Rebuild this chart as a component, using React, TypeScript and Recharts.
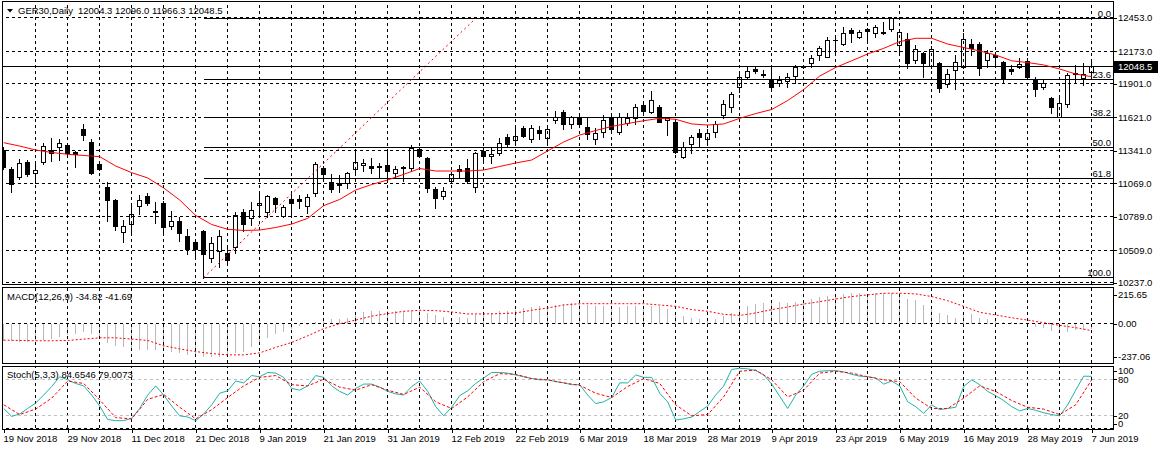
import React from 'react';
import { ComposedChart, Bar, Line, XAxis, YAxis, ReferenceLine } from 'recharts';

const FONT = '"Liberation Sans", Arial, sans-serif';
const FS = 9.5;

// ---------- data ----------
const opens = [
  11348, 11186, 11124, 11245, 11153, 11245, 11348, 11376, 11390, 11329,
  11521, 11417, 11231, 11036, 10929, 10659, 10726, 10879, 10963, 10837,
  10907, 10714, 10754, 10628, 10575, 10670, 10441, 10502, 10483, 10538,
  10831, 10776, 10887, 10826, 10944, 10795, 10935, 10938, 10879, 10985,
  11195, 11082, 11069, 11074, 11186, 11222, 11214, 11206, 11222, 11158,
  11203, 11195, 11356, 11278, 11021, 10963, 11088, 11186, 11195, 11041,
  11342, 11298, 11320, 11454, 11432, 11530, 11437, 11515, 11446, 11599,
  11669, 11566, 11613, 11543, 11437, 11501, 11622, 11496, 11577, 11618,
  11725, 11669, 11710, 11603, 11585, 11292, 11396, 11488, 11437, 11501,
  11643, 11705, 11873, 11962, 12026, 11973, 11940, 11906, 11926, 11967,
  12043, 12074, 12143, 12129, 12266, 12233, 12352, 12296, 12358, 12325,
  12327, 12358, 12227, 12275, 12101, 12157, 12051, 12079, 11898, 12018,
  12045, 12235, 12235, 12101, 12143, 12087, 12029, 12040, 12095, 11940,
  11873, 11781, 11627, 11733, 11982, 11948, 12004.3,
];
const highs = [
  11373, 11206, 11270, 11264, 11237, 11404, 11446, 11437, 11404, 11340,
  11566, 11437, 11247, 11082, 10935, 10762, 10887, 10971, 10990, 10915,
  10923, 10837, 10784, 10684, 10594, 10678, 10617, 10678, 10525, 10831,
  10854, 10915, 10980, 10971, 10957, 10887, 10999, 10971, 10980, 11250,
  11214, 11147, 11139, 11166, 11329, 11270, 11278, 11237, 11329, 11214,
  11214, 11390, 11376, 11292, 11041, 11041, 11166, 11222, 11270, 11334,
  11362, 11376, 11446, 11482, 11530, 11549, 11557, 11549, 11549, 11674,
  11683, 11633, 11655, 11622, 11530, 11641, 11641, 11655, 11655, 11733,
  11739, 11844, 11725, 11622, 11599, 11417, 11473, 11521, 11521, 11593,
  11767, 11836, 11984, 12045, 12051, 12018, 12032, 11967, 11995, 12060,
  12060, 12143, 12221, 12291, 12291, 12375, 12367, 12352, 12367, 12394,
  12422, 12464, 12353, 12325, 12227, 12171, 12219, 12087, 12026, 12143,
  12330, 12275, 12255, 12185, 12171, 12095, 12060, 12116, 12116, 11957,
  11934, 11794, 11789, 11990, 12060, 12079, 12096,
];
const lows = [
  11189, 10999, 11105, 11130, 11069, 11231, 11258, 11264, 11306, 11203,
  11432, 11147, 11180, 10756, 10678, 10580, 10656, 10812, 10887, 10734,
  10650, 10686, 10586, 10477, 10441, 10280, 10410, 10371, 10399, 10483,
  10672, 10720, 10795, 10790, 10831, 10784, 10804, 10862, 10818, 10963,
  11105, 10999, 10999, 11027, 11166, 11175, 11158, 11124, 11082, 11111,
  11091, 11175, 11292, 10999, 10860, 10935, 11069, 11116, 11069, 10999,
  11250, 11237, 11306, 11381, 11417, 11454, 11417, 11437, 11398, 11577,
  11521, 11530, 11549, 11437, 11398, 11454, 11501, 11482, 11557, 11566,
  11655, 11655, 11582, 11473, 11320, 11278, 11320, 11376, 11398, 11454,
  11613, 11669, 11836, 11940, 11990, 11957, 11865, 11884, 11873, 11911,
  12032, 12045, 12101, 12124, 12171, 12227, 12255, 12283, 12263, 12296,
  12317, 12347, 12160, 12032, 12074, 11957, 12034, 11836, 11873, 11856,
  12032, 12143, 11976, 12045, 12045, 11911, 11984, 12032, 11957, 11802,
  11856, 11655, 11622, 11705, 11920, 11892, 11966.3,
];
const closes = [
  11208, 11061, 11237, 11144, 11180, 11381, 11325, 11404, 11325, 11312,
  11473, 11153, 11191, 10929, 10714, 10714, 10810, 10929, 10907, 10826,
  10706, 10754, 10650, 10519, 10519, 10475, 10572, 10630, 10427, 10801,
  10728, 10846, 10902, 10965, 10896, 10868, 10907, 10923, 10957, 11228,
  11144, 11021, 11055, 11153, 11250, 11237, 11200, 11210, 11175, 11186,
  11195, 11362, 11300, 11027, 10949, 11007, 11144, 11172, 11088, 11320,
  11300, 11314, 11409, 11398, 11465, 11465, 11530, 11488, 11521, 11627,
  11566, 11622, 11566, 11479, 11493, 11599, 11521, 11622, 11613, 11705,
  11677, 11767, 11585, 11612, 11334, 11376, 11454, 11459, 11488, 11563,
  11730, 11814, 11962, 12009, 12012, 11980, 11873, 11934, 11957, 12040,
  12049, 12116, 12199, 12269, 12271, 12325, 12325, 12338, 12347, 12375,
  12333, 12451, 12333, 12074, 12191, 12074, 12191, 11865, 11984, 12087,
  12275, 12199, 12032, 12157, 12129, 11940, 12012, 12068, 11962, 11856,
  11911, 11705, 11739, 11976, 11990, 11984, 12048.5,
];
// moving average, read at every second bar (bars 0, 2, 4, ... 136)
const maEven = [
  11409, 11381, 11348, 11327, 11312, 11302, 11292, 11214, 11158, 11114,
  11030, 10929, 10800, 10724, 10684, 10674, 10678, 10699, 10728, 10776,
  10882, 10934, 11013, 11059, 11097, 11144, 11193, 11172, 11172, 11172,
  11180, 11210, 11239, 11264, 11340, 11415, 11473, 11511, 11545, 11570,
  11593, 11613, 11605, 11566, 11557, 11566, 11613, 11653, 11687, 11762,
  11854, 11967, 12039, 12095, 12152, 12199, 12255, 12283, 12283, 12235,
  12206, 12177, 12143, 12095, 12080, 12060, 12026, 11984, 11962,
];
const macdHist = [
  -103, -107, -109, -113, -103, -99, -93, -83, -69, -63,
  -50, -63, -93, -117, -133, -143, -152, -156, -156, -156,
  -162, -168, -176, -188, -196, -202, -202, -198, -192, -178,
  -168, -143, -113, -89, -63, -50, -30, -14, -10, 10,
  16, 26, 30, 36, 59, 71, 75, 75, 75, 75,
  75, 79, 75, 65, 50, 40, 36, 40, 36, 50,
  65, 65, 75, 75, 85, 95, 99, 109, 109, 115,
  121, 125, 121, 115, 109, 109, 105, 101, 105, 109,
  109, 109, 105, 89, 65, 46, 36, 26, 16, 26,
  46, 65, 89, 105, 121, 125, 129, 129, 125, 131,
  141, 149, 160, 168, 174, 180, 184, 184, 180, 184,
  184, 188, 184, 149, 141, 115, 109, 65, 50, 36,
  65, 59, 36, 30, 16, 12, 10, 6, -4, -18,
  -24, -44, -57, -50, -40, -38, -34.82,
];
// MACD signal, read at every second bar
const macdSignalEven = [
  -99, -101, -103, -103, -101, -93, -85, -85, -93, -101,
  -133, -152, -168, -180, -188, -188, -176, -143, -113, -73,
  -30, 0, 22, 46, 61, 75, 81, 79, 71, 59,
  59, 61, 65, 81, 95, 113, 121, 121, 121, 121,
  121, 113, 105, 85, 75, 57, 50, 65, 85, 101,
  119, 133, 149, 164, 174, 184, 184, 180, 164, 139,
  105, 69, 53, 36, 22, 6, -10, -24, -41.69,
];
const stochMain = [
  32, 19, 23, 32, 41, 54, 68, 84, 79, 73,
  69, 54, 36, 14, 12, 12, 16, 32, 54, 69,
  54, 36, 20, 18, 12, 23, 38, 57, 61, 77,
  74, 86, 84, 91, 90, 83, 65, 62, 69, 86,
  83, 69, 60, 54, 65, 72, 72, 67, 60, 56,
  54, 68, 77, 60, 35, 20, 34, 53, 61, 73,
  82, 91, 91, 90, 87, 84, 81, 79, 79, 76,
  74, 71, 71, 54, 40, 43, 50, 74, 74, 87,
  83, 83, 57, 43, 13, 15, 18, 27, 36, 54,
  69, 96, 98, 97, 94, 87, 72, 52, 32, 54,
  69, 88, 93, 94, 94, 92, 88, 85, 84, 82,
  72, 77, 69, 43, 35, 24, 38, 30, 32, 34,
  68, 79, 71, 60, 53, 45, 35, 28, 32, 29,
  25, 22, 20, 38, 62, 85, 84.6546,
];
// stochastic signal, read at every second bar
const stochSignalEven = [
  38, 22, 31, 49, 77, 73, 46, 17, 15, 47,
  55, 34, 15, 30, 50, 69, 83, 86, 71, 69,
  80, 67, 62, 71, 62, 55, 67, 43, 32, 51,
  76, 89, 88, 81, 79, 74, 70, 57, 50, 68,
  81, 73, 38, 20, 22, 51, 93, 95, 79, 51,
  62, 90, 93, 90, 84, 79, 76, 49, 32, 32,
  49, 69, 60, 45, 34, 31, 22, 38, 79.0073,
];
const dateLabels = [
  '19 Nov 2018', '29 Nov 2018', '11 Dec 2018', '21 Dec 2018', '9 Jan 2019', '21 Jan 2019',
  '31 Jan 2019', '12 Feb 2019', '22 Feb 2019', '6 Mar 2019', '18 Mar 2019', '28 Mar 2019',
  '9 Apr 2019', '23 Apr 2019', '6 May 2019', '16 May 2019', '28 May 2019', '7 Jun 2019',
];
const priceTicks = [10237, 10509, 10789, 11069, 11341, 11621, 11901, 12173, 12453];
const lastPrice = 12048.5;
const fibHigh = 12450;
const fibLow = 10280;
const fibStartBar = 25;
const fibEndBar = 59;
const fibLevels = [0, 23.6, 38.2, 50, 61.8, 100];
const macdMax = 215.65;
const macdMin = -237.06;
const stochLevels = [20, 80];
const titleText = 'GER30,Daily';
const titleValues = '12004.3 12096.0 11966.3 12048.5';
const macdTitle = 'MACD(12,26,9) -34.82 -41.69';
const stochTitle = 'Stoch(5,3,3) 84.6546 79.0073';

// ---------- derived tables ----------
const nBars = opens.length;
const X_DOMAIN: [number, number] = [-0.2125, nBars + 1.6625];
const gridBars: number[] = [];
for (let b = 4; b < nBars; b += 4) gridBars.push(b);
const dateTickBars = dateLabels.map((_, k) => k * 8);

const candleData = opens.map((o, i) => ({
  i, o, h: highs[i], l: lows[i], c: closes[i], range: [lows[i], highs[i]],
  ma: i % 2 === 0 ? maEven[i / 2] : null,
}));
const macdData = macdHist.map((v, i) => ({
  i, hist: v, sig: i % 2 === 0 ? macdSignalEven[i / 2] : null,
}));
const stochData = stochMain.map((v, i) => ({
  i, k: v, d: i % 2 === 0 ? stochSignalEven[i / 2] : null,
}));

// ---------- shapes ----------
const Candle = (props: any) => {
  const { x, y, width, height, payload } = props;
  if (x == null || y == null || !payload) return null;
  const top = Math.min(y, y + height);
  const span = Math.abs(height);
  const { o, h, l, c } = payload;
  const k = h > l ? span / (h - l) : 0;
  const py = (v: number) => top + (h - v) * k;
  const cx = Math.round(x + width / 2);
  const bt = Math.round(py(Math.max(o, c)));
  const bb = Math.round(py(Math.min(o, c)));
  const up = c > o;
  return (
    <g>
      <line x1={cx + 0.5} x2={cx + 0.5} y1={Math.round(top)} y2={Math.round(top + span) + 1} stroke="#000" strokeWidth={1} />
      {bb - bt < 1 ? (
        <line x1={cx - 2} x2={cx + 3} y1={bt + 0.5} y2={bt + 0.5} stroke="#000" strokeWidth={1} />
      ) : (
        <rect x={cx - 1.5} y={bt + 0.5} width={4} height={bb - bt} fill={up ? '#fff' : '#000'} stroke="#000" strokeWidth={1} />
      )}
    </g>
  );
};

const HistBar = (props: any) => {
  const { x, y, width, height } = props;
  if (x == null || y == null) return null;
  const t = Math.round(Math.min(y, y + height));
  const b = Math.round(Math.max(y, y + height));
  const cx = Math.round(x + width / 2);
  return <rect x={cx} y={t} width={1} height={Math.max(b - t, 1)} fill="#b8b8b8" />;
};

const PriceTick = (props: any) => {
  const { x, y, payload } = props;
  const v = payload.value;
  const ry = Math.round(y) + 0.5;
  if (v === lastPrice) {
    return (
      <g>
        <rect x={x + 1} y={Math.round(y) - 5} width={44} height={12} fill="#000" />
        <text x={x + 5} y={y} dy="0.36em" fill="#fff" fontSize={FS} fontFamily={FONT}>{v.toFixed(1)}</text>
      </g>
    );
  }
  return (
    <g>
      <line x1={x + 1} x2={x + 4} y1={ry} y2={ry} stroke="#000" />
      <text x={x + 5} y={y} dy="0.36em" fill="#000" fontSize={FS} fontFamily={FONT}>{v.toFixed(1)}</text>
    </g>
  );
};

const MacdTick = (props: any) => {
  const { x, y, payload } = props;
  const v = payload.value;
  const yy = v === macdMax ? y + 7 : v === macdMin ? y - 6 : y;
  const ry = Math.round(yy) + 0.5;
  return (
    <g>
      <line x1={x + 1} x2={x + 4} y1={ry} y2={ry} stroke="#000" />
      <text x={x + 5} y={yy} dy="0.36em" fill="#000" fontSize={FS} fontFamily={FONT}>{v.toFixed(2)}</text>
    </g>
  );
};

const StochTick = (props: any) => {
  const { x, y, payload } = props;
  const v = payload.value;
  const yy = v === 100 ? y + 4 : v === 0 ? y - 4.5 : y;
  const ry = Math.round(yy) + 0.5;
  return (
    <g>
      <line x1={x + 1} x2={x + 4} y1={ry} y2={ry} stroke="#000" />
      <text x={x + 5} y={yy} dy="0.36em" fill="#000" fontSize={FS} fontFamily={FONT}>{String(v)}</text>
    </g>
  );
};

const DateTick = (props: any) => {
  const { x, y, payload } = props;
  const idx = dateTickBars.indexOf(payload.value);
  const cx = Math.round(x) + 0.5;
  return (
    <g>
      <line x1={cx} x2={cx} y1={y + 1} y2={y + 5} stroke="#000" />
      <text x={cx - 1} y={y + 13.5} fill="#000" fontSize={FS} fontFamily={FONT}>{dateLabels[idx]}</text>
    </g>
  );
};

const FibLabel = (props: any) => {
  const { viewBox, text } = props;
  if (!viewBox) return null;
  return (
    <text x={viewBox.x + viewBox.width - 2} y={viewBox.y - 1.5} textAnchor="end" fill="#000" fontSize={FS} fontFamily={FONT}>{text}</text>
  );
};

const dash = '3 3';

const vGrid = (prefix: string) =>
  gridBars.map((b) => (
    <ReferenceLine key={prefix + b} x={b} stroke="#000" strokeDasharray={dash} strokeWidth={1} shapeRendering="crispEdges" ifOverflow="visible" />
  ));

export default function App() {
  return (
    <div style={{ position: 'absolute', left: 0, top: 0, width: 1158, height: 450, background: '#fff', overflow: 'hidden' }}>
      {/* main price panel */}
      <div style={{ position: 'absolute', left: 0, top: 0 }}>
        <ComposedChart width={1158} height={292} data={candleData} margin={{ top: 1, right: 0, bottom: 8, left: 2 }}>
          <XAxis type="number" dataKey="i" domain={X_DOMAIN} hide allowDataOverflow />
          <YAxis
            orientation="right"
            width={45}
            domain={[10226.1, 12595.3]}
            allowDataOverflow
            ticks={[...priceTicks, lastPrice]}
            interval={0}
            tick={<PriceTick />}
            tickSize={0}
            tickMargin={0}
            axisLine={false}
            tickLine={false}
          />
          {priceTicks.map((p) => (
            <ReferenceLine key={'h' + p} y={p} stroke="#000" strokeDasharray={dash} strokeWidth={1} shapeRendering="crispEdges" />
          ))}
          {vGrid('m')}
          {fibLevels.map((f) => {
            const v = fibHigh - (f / 100) * (fibHigh - fibLow);
            return (
              <ReferenceLine
                key={'f' + f}
                segment={[{ x: fibStartBar, y: v }, { x: X_DOMAIN[1], y: v }]}
                stroke="#000"
                strokeWidth={1}
                shapeRendering="crispEdges"
                label={<FibLabel text={f.toFixed(1)} />}
              />
            );
          })}
          <ReferenceLine
            segment={[{ x: fibStartBar, y: fibLow }, { x: fibEndBar, y: fibHigh }]}
            stroke="#ff0000"
            strokeDasharray="2 3"
            strokeWidth={1}
          />
          <ReferenceLine y={lastPrice} stroke="#000" strokeWidth={1} shapeRendering="crispEdges" />
          <Bar dataKey="range" shape={<Candle />} barSize={5} isAnimationActive={false} />
          <Line dataKey="ma" stroke="#ff0000" strokeWidth={1} dot={false} connectNulls isAnimationActive={false} />
        </ComposedChart>
      </div>

      {/* MACD panel */}
      <div style={{ position: 'absolute', left: 0, top: 288 }}>
        <ComposedChart width={1158} height={75} data={macdData} margin={{ top: 0, right: 0, bottom: 0, left: 2 }}>
          <XAxis type="number" dataKey="i" domain={X_DOMAIN} hide allowDataOverflow />
          <YAxis
            orientation="right"
            width={45}
            domain={[macdMin, macdMax]}
            allowDataOverflow
            ticks={[macdMin, 0, macdMax]}
            interval={0}
            tick={<MacdTick />}
            tickSize={0}
            tickMargin={0}
            axisLine={false}
            tickLine={false}
          />
          {vGrid('d')}
          <ReferenceLine y={0} stroke="#000" strokeDasharray={dash} strokeWidth={1} shapeRendering="crispEdges" />
          <Bar dataKey="hist" shape={<HistBar />} barSize={1} isAnimationActive={false} />
          <Line dataKey="sig" stroke="#ff0000" strokeWidth={1} strokeDasharray="2 2" dot={false} connectNulls isAnimationActive={false} />
        </ComposedChart>
      </div>

      {/* Stochastic panel with date axis */}
      <div style={{ position: 'absolute', left: 0, top: 363 }}>
        <ComposedChart width={1158} height={87} data={stochData} margin={{ top: 4, right: 0, bottom: 0, left: 2 }}>
          <XAxis
            type="number"
            dataKey="i"
            domain={X_DOMAIN}
            allowDataOverflow
            ticks={dateTickBars}
            interval={0}
            height={22}
            tick={<DateTick />}
            tickSize={0}
            tickMargin={0}
            axisLine={false}
            tickLine={false}
          />
          <YAxis
            orientation="right"
            width={45}
            domain={[0, 100]}
            allowDataOverflow
            ticks={[0, 20, 80, 100]}
            interval={0}
            tick={<StochTick />}
            tickSize={0}
            tickMargin={0}
            axisLine={false}
            tickLine={false}
          />
          {vGrid('s')}
          {stochLevels.map((lv) => (
            <ReferenceLine key={'l' + lv} y={lv} stroke="#c0c0c0" strokeDasharray={dash} strokeWidth={1} shapeRendering="crispEdges" />
          ))}
          <ReferenceLine y={0} stroke="#000" strokeDasharray={dash} strokeWidth={1} shapeRendering="crispEdges" />
          <Line dataKey="k" stroke="#20b2aa" strokeWidth={1} dot={false} isAnimationActive={false} />
          <Line dataKey="d" stroke="#ff0000" strokeWidth={1} strokeDasharray="3 2" dot={false} connectNulls isAnimationActive={false} />
        </ComposedChart>
      </div>

      {/* frames and titles */}
      <svg width={1158} height={450} style={{ position: 'absolute', left: 0, top: 0, pointerEvents: 'none' }}>
        <rect x={2.5} y={1.5} width={1111} height={283} fill="none" stroke="#000" strokeWidth={1} />
        <rect x={2.5} y={287.5} width={1111} height={76} fill="none" stroke="#000" strokeWidth={1} />
        <rect x={2.5} y={366.5} width={1111} height={63} fill="none" stroke="#000" strokeWidth={1} />
        <polygon points="7,9 13,9 10,12.5" fill="#000" />
        <text x={18} y={14} fontSize={FS} fontFamily={FONT} fill="#000">{titleText}</text>
        <text x={78} y={14} fontSize={FS} fontFamily={FONT} fill="#000">{titleValues}</text>
        <text x={7} y={300} fontSize={FS} fontFamily={FONT} fill="#000">{macdTitle}</text>
        <text x={7} y={378} fontSize={FS} fontFamily={FONT} fill="#000">{stochTitle}</text>
      </svg>
    </div>
  );
}
